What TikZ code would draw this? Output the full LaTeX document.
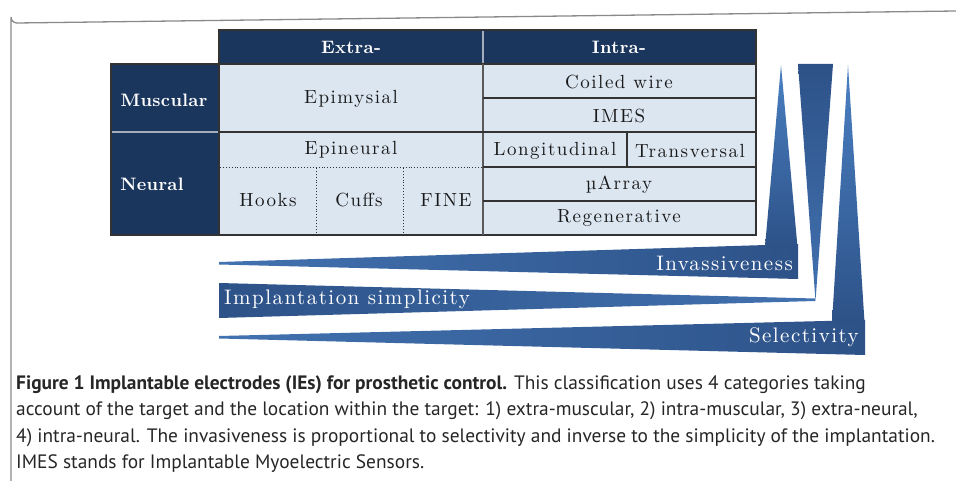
\documentclass[tikz,border=0pt]{standalone}
\usepackage{fontspec}
\newfontfamily\capfont{PT Sans}
\newfontfamily\cellfont{lmroman10-regular.otf}[BoldFont=lmroman10-bold.otf, LetterSpace=8]
\newfontfamily\headfont{lmroman10-bold.otf}[LetterSpace=2]
\newfontfamily\wfont{lmroman10-regular.otf}[LetterSpace=7]
\usetikzlibrary{calc}
\definecolor{navy}{HTML}{1B365D}
\definecolor{cellbg}{HTML}{DCE6F1}
\definecolor{gridc}{HTML}{333333}
\definecolor{lightdiv}{HTML}{A3ADBD}
\definecolor{blueA}{HTML}{4272B0}
\definecolor{blueB}{HTML}{2D5288}
\definecolor{blueC}{HTML}{4A80C2}
\definecolor{framec}{HTML}{8A8A8A}
\tikzset{
  cell/.style={inner sep=0pt, font=\cellfont\fontsize{19}{22}\selectfont, text=black!90, anchor=center},
  headtxt/.style={inner sep=0pt, font=\headfont\fontsize{18}{21}\selectfont, text=white, anchor=center},
  grid/.style={draw=gridc, line width=1.6pt},
  dots/.style={draw=gridc, line width=0.9pt, dotted},
  wtxt/.style={inner sep=0pt, font=\wfont\fontsize{21}{24}\selectfont, text=white},
  captxt/.style={inner sep=0pt, anchor=base west, font=\capfont\fontsize{19.4}{22}\selectfont, text=black!85}
}
\begin{document}
\begin{tikzpicture}[x=1pt,y=-1pt]
\useasboundingbox (0,0) rectangle (956,481);
% frame
\draw[framec, line width=1.3pt] (11,481) -- (11,17) arc[start angle=180, end angle=90, radius=6] -- (956,11);
% table backgrounds
\fill[navy] (219,30) rectangle (756,64);
\fill[navy] (111,64) rectangle (219,235);
\fill[cellbg] (219,64) rectangle (756,235);
% light dividers
\draw[lightdiv, line width=2pt] (483,31) -- (483,63);
\draw[lightdiv, line width=2.5pt] (112,132) -- (218,132);
% grid
\draw[grid] (219,30) rectangle (756,64);
\draw[grid] (111,64) rectangle (756,235);
\draw[grid] (219,64) -- (219,235);
\draw[grid, draw=black!65, line width=2pt] (483,64) -- (483,235);
\draw[grid] (219,132) -- (756,132);
\draw[grid] (483,98) -- (756,98);
\draw[grid] (483,167) -- (756,167);
\draw[grid] (483,201) -- (756,201);
\draw[grid] (627,132) -- (627,167);
\draw[dots] (220,167) -- (482,167);
\draw[dots] (316,168) -- (316,234);
\draw[dots] (403,168) -- (403,234);
% header texts
\node[headtxt] (extra) at (351,47) {Extra-};
\node[headtxt] (intra) at (619,47) {Intra-};
\node[headtxt] (musc) at (164,100) {Muscular};
\node[headtxt] (neur) at (152,184) {Neural};
% cells
\node[cell] (epim) at (351,99) {Epimysial};
\node[cell] (epin) at (351,150) {Epineural};
\node[cell] (hooks) at (268,200) {Hooks};
\node[cell] (cuffs) at (359,200) {Cuffs};
\node[cell] (fine) at (446,200) {FINE};
\node[cell] (coil) at (619,82) {Coiled wire};
\node[cell] (imes) at (619,116) {IMES};
\node[cell] (longi) at (555,151) {Longitudinal};
\node[cell] (trans) at (690,151) {Transversal};
\node[cell] (uarr) at (619,185) {µArray};
\node[cell] (regen) at (619,218) {Regenerative};
% wedges: invasiveness
\shade[left color=blueA, right color=blueB] (219,262) -- (798,244) -- (798,279) -- (219,264.5) -- cycle;
\shade[top color=blueC, bottom color=blueB] (781,65) -- (797.5,247) -- (765,247) -- cycle;
% implantation simplicity
\shade[left color=blueB, right color=blueA] (219,283) -- (815,298.5) -- (815,301) -- (219,318) -- cycle;
\shade[top color=blueB, bottom color=blueA] (798,64) -- (833,64) -- (815.5,301) -- cycle;
% selectivity
\shade[left color=blueA, right color=blueB] (219,336) -- (865,320) -- (865,355) -- (219,338.5) -- cycle;
\shade[top color=blueC, bottom color=blueB] (848,65) -- (864.5,322) -- (832,322) -- cycle;
% wedge labels
\node[wtxt, anchor=east] (inv) at (793,263) {Invassiveness};
\node[wtxt, anchor=west] (impl) at (224,299) {Implantation simplicity};
\node[wtxt, anchor=east] (sel) at (859,337) {Selectivity};
% caption
\node[captxt] (cap1) at (16,389) {\textbf{Figure 1 Implantable electrodes (IEs) for prosthetic control.} This classification uses 4 categories taking};
\node[captxt] (cap2) at (16,415.5) {account of the target and the location within the target: 1) extra-muscular, 2) intra-muscular, 3) extra-neural,};
\node[captxt] (cap3) at (16,442) {4) intra-neural. The invasiveness is proportional to selectivity and inverse to the simplicity of the implantation.};
\node[captxt] (cap4) at (16,468.5) {IMES stands for Implantable Myoelectric Sensors.};
\end{tikzpicture}
\end{document}
